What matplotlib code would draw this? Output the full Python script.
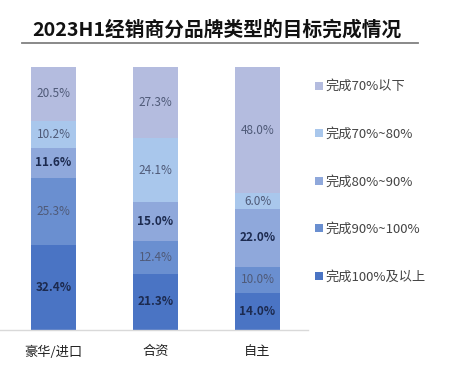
import matplotlib
matplotlib.use("Agg")
import matplotlib.pyplot as plt
from matplotlib.lines import Line2D
import numpy as np

plt.rcParams['font.family'] = ['Noto Sans CJK SC', 'DejaVu Sans']

title = "2023H1经销商分品牌类型的目标完成情况"
categories = ["豪华/进口", "合资", "自主"]
series_names = ["完成100%及以上", "完成90%~100%", "完成80%~90%", "完成70%~80%", "完成70%以下"]
values = {
    "完成100%及以上": [32.4, 21.3, 14.0],
    "完成90%~100%": [25.3, 12.4, 10.0],
    "完成80%~90%": [11.6, 15.0, 22.0],
    "完成70%~80%": [10.2, 24.1, 6.0],
    "完成70%以下": [20.5, 27.3, 48.0],
}
colors = ["#4a74c4", "#6a8fd0", "#8fa8db", "#a9c7ec", "#b4bcdf"]
bold_series = {"完成100%及以上", "完成80%~90%"}

fig = plt.figure(figsize=(4.62, 3.83), dpi=100)
ax = fig.add_axes([0.0, 0.1384, 308/462, 0.687])

x = np.arange(len(categories))
bottom = np.zeros(len(categories))
handles = []
for name, col in zip(series_names, colors):
    vals = np.array(values[name])
    bars = ax.bar(x, vals, width=0.45, bottom=bottom, color=col, label=name, edgecolor='none')
    handles.append(bars)
    for xi, v, b in zip(x, vals, bottom):
        if name in bold_series:
            ax.text(xi, b + v/2, f"{v:.1f}%", ha='center', va='center',
                    fontsize=8.5, fontweight='bold', color='#1c2a4f')
        else:
            ax.text(xi, b + v/2, f"{v:.1f}%", ha='center', va='center',
                    fontsize=8.5, color='#4f5a78')
    bottom += vals

ax.set_xlim(-0.525, 2.495)
ax.set_ylim(0, 100)
ax.set_yticks([])
ax.set_xticks(x)
ax.set_xticklabels(categories, fontsize=9.5, color='#222222')
ax.tick_params(axis='x', length=0, pad=11)
for s in ['top', 'right', 'left']:
    ax.spines[s].set_visible(False)
ax.spines['bottom'].set_color('#d9d9d9')
ax.spines['bottom'].set_linewidth(1.0)

leg = fig.legend(handles[::-1], series_names[::-1], loc='upper left',
                 bbox_to_anchor=(310/462, 1 - 75/383), frameon=False,
                 fontsize=9.5, labelspacing=2.62, handlelength=0.55,
                 handleheight=0.55, handletextpad=0.25, borderaxespad=0)
for t in leg.get_texts():
    t.set_color('#444444')

fig.text(0.47, 0.922, title, ha='center', va='center', fontsize=14.2,
         fontweight='bold', color='#111111')
fig.add_artist(Line2D([22/462, 418/462], [1 - 43/383, 1 - 43/383],
                      transform=fig.transFigure, color='#808080', lw=1.3))

fig.savefig("out.png", dpi=100)
